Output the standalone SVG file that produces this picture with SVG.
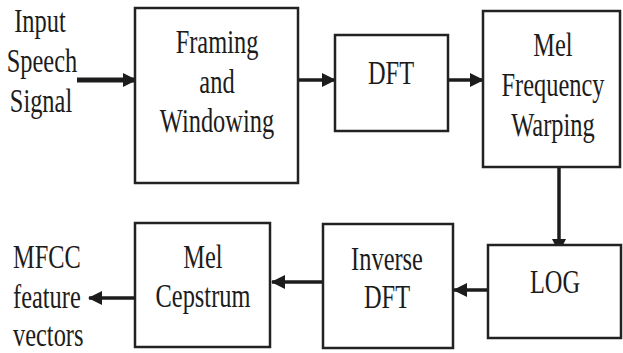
<svg xmlns="http://www.w3.org/2000/svg" width="623" height="353" viewBox="0 0 623 353">
  <defs>
    <marker id="head" markerWidth="14" markerHeight="14" refX="13" refY="7" orient="auto" markerUnits="userSpaceOnUse">
      <path d="M0,0 L14,7 L0,14 Z" fill="#1c1c1c"/>
    </marker>
  </defs>
  <rect width="623" height="353" fill="#ffffff"/>

  <!-- connectors -->
  <g id="connectors" stroke="#1c1c1c" stroke-width="3.5" fill="none" marker-end="url(#head)">
    <line x1="77" y1="80" x2="136" y2="80" stroke-width="5"/>
    <line x1="298" y1="80" x2="335" y2="80"/>
    <line x1="448" y1="80" x2="483" y2="80"/>
    <line x1="559" y1="167" x2="559" y2="252"/>
    <line x1="488" y1="290" x2="454" y2="290"/>
    <line x1="323" y1="282" x2="272" y2="282"/>
    <line x1="135" y1="298" x2="89" y2="298"/>
  </g>

  <!-- all labels: narrow serif, scaled horizontally -->
  <g font-family="Liberation Serif" font-size="33" fill="#1c1c1c" text-anchor="middle">
    <g id="input">
      <text transform="translate(40,32) scale(0.74,1)">Input</text>
      <text transform="translate(42,72) scale(0.74,1)">Speech</text>
      <text transform="translate(41,112) scale(0.74,1)">Signal</text>
    </g>

    <g id="framing">
      <rect x="135" y="8" width="163" height="175" fill="#fff" stroke="#222" stroke-width="2.5"/>
      <text transform="translate(217,53) scale(0.74,1)">Framing</text>
      <text transform="translate(217,93) scale(0.74,1)">and</text>
      <text transform="translate(217,132) scale(0.74,1)">Windowing</text>
    </g>

    <g id="dft">
      <rect x="335" y="35" width="113" height="96" fill="#fff" stroke="#222" stroke-width="2.5"/>
      <text transform="translate(391,84) scale(0.74,1)">DFT</text>
    </g>

    <g id="mel-warping">
      <rect x="483" y="11" width="137" height="156" fill="#fff" stroke="#222" stroke-width="2.5"/>
      <text transform="translate(553,56) scale(0.74,1)">Mel</text>
      <text transform="translate(553,96) scale(0.74,1)">Frequency</text>
      <text transform="translate(553,136) scale(0.74,1)">Warping</text>
    </g>

    <g id="log">
      <rect x="488" y="245" width="133" height="93" fill="#fff" stroke="#222" stroke-width="2.5"/>
      <text transform="translate(555,293) scale(0.74,1)">LOG</text>
    </g>

    <g id="inverse-dft">
      <rect x="323" y="224" width="130" height="124" fill="#fff" stroke="#222" stroke-width="2.5"/>
      <text transform="translate(387,270) scale(0.74,1)">Inverse</text>
      <text transform="translate(387,308) scale(0.74,1)">DFT</text>
    </g>

    <g id="mel-cepstrum">
      <rect x="135" y="223" width="135" height="124" fill="#fff" stroke="#222" stroke-width="2.5"/>
      <text transform="translate(203,268) scale(0.74,1)">Mel</text>
      <text transform="translate(203,307) scale(0.74,1)">Cepstrum</text>
    </g>

    <g id="output" text-anchor="start">
      <text transform="translate(13,268) scale(0.74,1)">MFCC</text>
      <text transform="translate(13,308) scale(0.74,1)">feature</text>
      <text transform="translate(13,346) scale(0.74,1)">vectors</text>
    </g>
  </g>
</svg>
